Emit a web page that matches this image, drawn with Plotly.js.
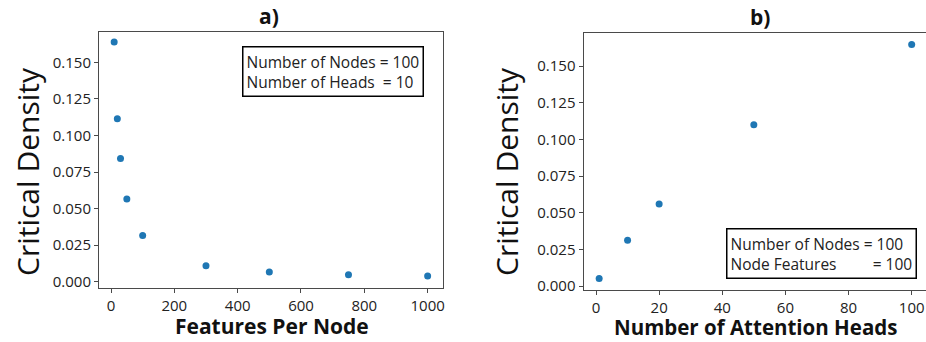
<!DOCTYPE html>
<html>
<head>
<meta charset="utf-8">
<script src="https://cdn.plot.ly/plotly-3.0.1.min.js"></script>
<style>html,body{margin:0;padding:0;background:#fff;}</style>
</head>
<body>
<div id="chart" style="width:926px;height:342px;"></div>
<script>
// Panel a) Critical density vs features per node
const featuresPerNode = [10, 20, 30, 50, 100, 300, 500, 750, 1000];
const densityA = [0.1639, 0.1115, 0.0843, 0.0565, 0.0315, 0.0109, 0.0066, 0.0048, 0.0039];
// Panel b) Critical density vs number of attention heads
const attentionHeads = [1, 10, 20, 50, 100];
const densityB = [0.0052, 0.0313, 0.0560, 0.1101, 0.1648];

const yTicks = [0, 0.025, 0.05, 0.075, 0.1, 0.125, 0.15];
const yTickText = ["0.000", "0.025", "0.050", "0.075", "0.100", "0.125", "0.150"];
const xTicksA = [0, 200, 400, 600, 800, 1000];
const xTicksB = [0, 20, 40, 60, 80, 100];

const FONT = "Open Sans, Noto Sans, sans-serif";
const frameColor = "#4a4a4a";
const tickFont = {family: FONT, size: 15, color: "#222"};

const W = 926, H = 342;

const traces = [
  {x: featuresPerNode, y: densityA, type: "scatter", mode: "markers",
   marker: {color: "#1f77b4", size: 7}, xaxis: "x", yaxis: "y", hoverinfo: "x+y"},
  {x: attentionHeads, y: densityB, type: "scatter", mode: "markers",
   marker: {color: "#1f77b4", size: 7}, xaxis: "x2", yaxis: "y2", hoverinfo: "x+y"}
];

function axisCommon(extra) {
  return Object.assign({
    showgrid: false, zeroline: false, showline: true, linecolor: frameColor, linewidth: 1,
    ticks: "outside", ticklen: 4, tickcolor: frameColor, tickwidth: 1,
    tickfont: tickFont, fixedrange: true
  }, extra);
}

function ann(text, x, y, size, extra) {
  return Object.assign({text: text, xref: "paper", yref: "paper", x: x / W, y: 1 - y / H,
    xanchor: "center", yanchor: "middle", showarrow: false,
    font: {family: FONT, size: size, color: "#111"}}, extra || {});
}

const layout = {
  width: W, height: H,
  margin: {l: 0, r: 0, t: 0, b: 0},
  paper_bgcolor: "#fff", plot_bgcolor: "#fff",
  showlegend: false,
  font: {family: FONT},
  xaxis: axisCommon({domain: [99 / W, 443 / W], range: [-37.9, 1048.5], tickvals: xTicksA,
    mirror: true, anchor: "y"}),
  yaxis: axisCommon({domain: [1 - 287.5 / H, 1 - 32 / H], range: [-0.00399, 0.17075],
    tickvals: yTicks, ticktext: yTickText, mirror: true, anchor: "x"}),
  xaxis2: axisCommon({domain: [583.5 / W, 1], range: [-3.96, 104.54], tickvals: xTicksB,
    mirror: true, anchor: "y2"}),
  yaxis2: axisCommon({domain: [1 - 290 / H, 1 - 33.3 / H], range: [-0.00272, 0.17247],
    tickvals: yTicks, ticktext: yTickText, mirror: false, anchor: "x2"}),
  annotations: [
    ann("<b>a)</b>", 269, 16, 21),
    ann("<b>b)</b>", 760, 17, 21),
    ann("Critical Density", 27, 172, 30, {textangle: -90}),
    ann("Critical Density", 506, 172, 30, {textangle: -90}),
    ann("<b>Features Per Node</b>", 272, 326, 21),
    ann("<b>Number of Attention Heads</b>", 755, 327, 20.5),
    ann("Number of Nodes = 100<br>Number of Heads&nbsp;&nbsp;= 10", 242, 46, 15.5,
      {align: "left", xanchor: "left", yanchor: "top", bordercolor: "#000", borderwidth: 1.5,
       borderpad: 3, bgcolor: "#fff", font: {family: FONT, size: 15.5, color: "#222"}}),
    ann("Number of Nodes = 100<br>Node Features&nbsp;&nbsp;&nbsp;&nbsp;&nbsp;&nbsp;&nbsp;&nbsp;&nbsp;= 100", 726, 228, 15.5,
      {align: "left", xanchor: "left", yanchor: "top", bordercolor: "#000", borderwidth: 1.5,
       borderpad: 3, bgcolor: "#fff", font: {family: FONT, size: 15.5, color: "#222"}})
  ]
};

Plotly.newPlot("chart", traces, layout, {displayModeBar: false, staticPlot: true});
</script>
</body>
</html>
